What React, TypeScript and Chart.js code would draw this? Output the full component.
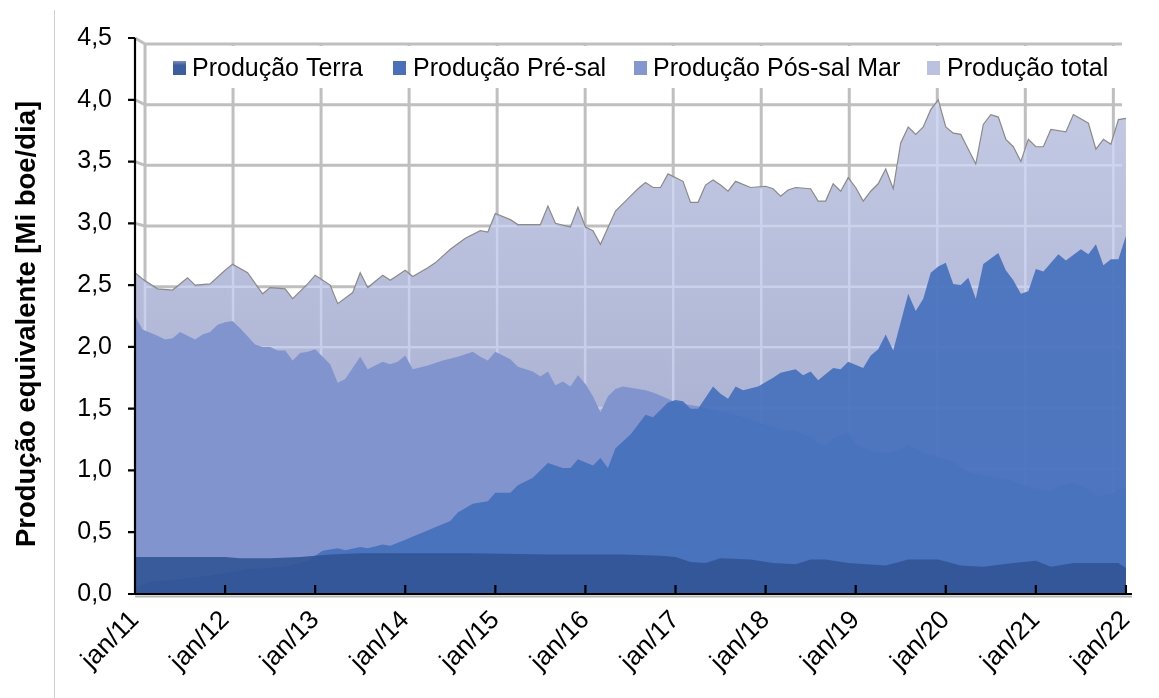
import React, { useEffect, useRef } from 'react';
import { Chart, registerables } from 'chart.js';

Chart.register(...registerables);

// ---------- data (month index: 0 = jan/11) ----------
const TICK_MONTHS = [0, 12, 24, 36, 48, 60, 72, 84, 96, 108, 120, 132];
const TICK_LABELS = ['jan/11', 'jan/12', 'jan/13', 'jan/14', 'jan/15', 'jan/16', 'jan/17', 'jan/18', 'jan/19', 'jan/20', 'jan/21', 'jan/22'];
const Y_TICKS = [0, 0.5, 1, 1.5, 2, 2.5, 3, 3.5, 4, 4.5];

const SERIES_NAMES = ['Produção Terra', 'Produção Pré-sal', 'Produção Pós-sal Mar', 'Produção total'];

const TOTAL_MONTHS = [0, 1, 3, 5, 7, 8, 10, 12, 13, 15, 17, 18, 20, 21, 23, 24, 26, 27, 29, 30, 31, 33, 34, 36, 37, 39, 40, 42, 44, 46, 47, 48, 50, 51, 54, 55, 56, 58, 59, 60, 61, 62, 64, 66, 67, 68, 69, 70, 71, 73, 74, 75, 76, 77, 78, 79, 80, 82, 84, 85, 86, 87, 88, 90, 91, 92, 93, 94, 95, 96, 97, 98, 99, 100, 101, 102, 103, 104, 105, 106, 107, 108, 109, 110, 111, 112, 113, 114, 115, 116, 117, 118, 119, 120, 121, 122, 124, 125, 127, 128, 129, 130, 131, 132];
const TOTAL_VALUES = [2.60, 2.55, 2.47, 2.46, 2.56, 2.50, 2.51, 2.62, 2.67, 2.60, 2.43, 2.48, 2.47, 2.39, 2.51, 2.58, 2.50, 2.35, 2.44, 2.60, 2.48, 2.58, 2.54, 2.62, 2.57, 2.64, 2.68, 2.79, 2.88, 2.94, 2.93, 3.08, 3.03, 2.99, 2.99, 3.14, 3.00, 2.97, 3.13, 2.97, 2.94, 2.83, 3.10, 3.22, 3.28, 3.33, 3.29, 3.29, 3.40, 3.34, 3.17, 3.17, 3.31, 3.35, 3.31, 3.26, 3.34, 3.29, 3.30, 3.28, 3.22, 3.27, 3.29, 3.28, 3.18, 3.18, 3.32, 3.26, 3.37, 3.29, 3.18, 3.26, 3.32, 3.44, 3.28, 3.65, 3.78, 3.72, 3.78, 3.92, 4.00, 3.78, 3.73, 3.72, 3.60, 3.48, 3.80, 3.88, 3.86, 3.68, 3.62, 3.50, 3.68, 3.62, 3.62, 3.76, 3.74, 3.88, 3.81, 3.60, 3.68, 3.64, 3.84, 3.85];

const POS_MONTHS = [0, 1, 3, 4, 5, 6, 7, 8, 9, 10, 11, 12, 13, 14, 16, 17, 18, 19, 20, 21, 22, 23, 24, 25, 26, 27, 28, 30, 31, 33, 34, 35, 36, 37, 39, 41, 43, 45, 46, 47, 48, 50, 51, 53, 54, 55, 56, 57, 58, 59, 60, 61, 62, 63, 64, 65, 66, 68, 69, 71, 72, 75, 78, 80, 82, 84, 86, 88, 90, 91, 92, 93, 95, 96, 98, 100, 102, 103, 105, 107, 109, 111, 113, 116, 118, 120, 122, 123, 125, 127, 128, 130, 131, 132];
const POS_VALUES = [2.25, 2.14, 2.09, 2.06, 2.07, 2.12, 2.09, 2.06, 2.10, 2.12, 2.18, 2.20, 2.21, 2.15, 2.02, 2.00, 2.00, 1.97, 1.97, 1.89, 1.95, 1.96, 1.98, 1.92, 1.86, 1.71, 1.74, 1.92, 1.82, 1.88, 1.86, 1.88, 1.93, 1.82, 1.85, 1.89, 1.92, 1.96, 1.92, 1.89, 1.96, 1.90, 1.84, 1.80, 1.76, 1.80, 1.69, 1.72, 1.68, 1.77, 1.70, 1.60, 1.47, 1.60, 1.66, 1.68, 1.67, 1.65, 1.63, 1.58, 1.55, 1.52, 1.48, 1.45, 1.41, 1.37, 1.33, 1.32, 1.27, 1.22, 1.20, 1.26, 1.31, 1.21, 1.16, 1.14, 1.17, 1.21, 1.14, 1.11, 1.07, 0.99, 0.96, 0.93, 0.89, 0.85, 0.83, 0.87, 0.90, 0.85, 0.79, 0.81, 0.85, 0.86];

const PRE_MONTHS = [0, 2, 6, 10, 15, 20, 23, 24, 25, 27, 28, 30, 31, 33, 34, 36, 38, 40, 42, 43, 45, 47, 48, 50, 51, 53, 55, 57, 58, 59, 61, 62, 63, 64, 66, 67, 68, 69, 71, 72, 73, 74, 75, 77, 78, 79, 80, 81, 83, 85, 86, 88, 89, 90, 91, 93, 94, 95, 97, 98, 99, 100, 101, 103, 104, 105, 106, 107, 108, 109, 110, 111, 112, 113, 115, 116, 117, 118, 119, 120, 121, 123, 124, 126, 127, 128, 129, 130, 131, 132];
const PRE_VALUES = [0.05, 0.10, 0.12, 0.15, 0.20, 0.22, 0.27, 0.31, 0.35, 0.37, 0.355, 0.38, 0.37, 0.40, 0.39, 0.44, 0.49, 0.54, 0.59, 0.66, 0.73, 0.75, 0.82, 0.82, 0.88, 0.94, 1.06, 1.02, 1.02, 1.09, 1.04, 1.10, 1.02, 1.18, 1.29, 1.37, 1.45, 1.43, 1.55, 1.57, 1.56, 1.50, 1.50, 1.68, 1.62, 1.58, 1.68, 1.65, 1.68, 1.75, 1.79, 1.82, 1.77, 1.80, 1.73, 1.83, 1.82, 1.88, 1.83, 1.93, 1.98, 2.10, 1.97, 2.43, 2.29, 2.39, 2.60, 2.65, 2.68, 2.51, 2.50, 2.56, 2.39, 2.67, 2.76, 2.62, 2.54, 2.43, 2.45, 2.63, 2.61, 2.75, 2.70, 2.79, 2.75, 2.83, 2.66, 2.71, 2.71, 2.90];

const TERRA_MONTHS = [0, 12, 14, 18, 22, 26, 30, 40, 45, 55, 65, 70, 72, 74, 76, 78, 82, 85, 88, 90, 92, 95, 100, 103, 107, 110, 113, 117, 120, 122, 125, 128, 131, 132];
const TERRA_VALUES = [0.30, 0.30, 0.29, 0.29, 0.30, 0.32, 0.33, 0.33, 0.33, 0.32, 0.32, 0.31, 0.30, 0.26, 0.25, 0.29, 0.28, 0.25, 0.24, 0.28, 0.28, 0.25, 0.23, 0.28, 0.28, 0.23, 0.22, 0.25, 0.27, 0.22, 0.25, 0.25, 0.25, 0.21];

const LEGEND_COLORS = ['#3d5e9e', '#4a70b9', '#8497cf', '#bac2df'];

const FONT = '"Liberation Sans", Arial, sans-serif';

function toPoints(months: number[], values: number[]) {
  return months.map((m, i) => ({ x: m, y: values[i] }));
}

function drawBackGrid(chart: any, color: string, width: number, diagonals: boolean) {
  const ctx = chart.ctx;
  const area = chart.chartArea;
  const xs = chart.scales.x;
  const ys = chart.scales.y;
  const L = area.left, R = area.right, B = area.bottom;
  const bx = (px: number) => L + 10 + (px - L) * 0.9772;
  const by = (py: number) => B - 4 - (B - py) * 0.982;
  ctx.save();
  ctx.strokeStyle = color;
  ctx.lineWidth = width;
  ctx.beginPath();
  Y_TICKS.forEach((v) => {
    const py = ys.getPixelForValue(v);
    ctx.moveTo(bx(L), by(py));
    ctx.lineTo(R - 4, by(py));
    if (diagonals) {
      ctx.moveTo(L, py);
      ctx.lineTo(bx(L), by(py));
    }
  });
  const top = by(ys.getPixelForValue(4.5));
  TICK_MONTHS.forEach((m) => {
    const px = bx(xs.getPixelForValue(m));
    ctx.moveTo(px, top);
    ctx.lineTo(px, by(B));
  });
  ctx.stroke();
  ctx.restore();
}

const decorPlugin = {
  id: 'decor',
  beforeDraw(chart: any) {
    const ctx = chart.ctx;
    ctx.save();
    ctx.fillStyle = '#ffffff';
    ctx.fillRect(0, 0, chart.width, chart.height);
    ctx.strokeStyle = '#cfcfcf';
    ctx.lineWidth = 1;
    ctx.beginPath();
    ctx.moveTo(54.5, 10);
    ctx.lineTo(54.5, chart.height);
    ctx.stroke();
    ctx.restore();
    drawBackGrid(chart, '#bfbfbf', 3, true);
  },
  afterDatasetDraw(chart: any, args: any) {
    if (args.index !== 3) return;
    const ctx = chart.ctx;
    const area = chart.chartArea;
    const pts = chart.getDatasetMeta(3).data;
    ctx.save();
    ctx.beginPath();
    ctx.moveTo(pts[0].x, area.bottom);
    pts.forEach((p: any) => ctx.lineTo(p.x, p.y + 2));
    ctx.lineTo(pts[pts.length - 1].x, area.bottom);
    ctx.closePath();
    ctx.clip();
    drawBackGrid(chart, 'rgba(225,232,255,0.45)', 2.5, false);
    ctx.restore();
  },
  afterDatasetsDraw(chart: any) {
    const ctx = chart.ctx;
    const area = chart.chartArea;
    const xs = chart.scales.x;
    const ys = chart.scales.y;
    ctx.save();
    // x axis shadow + axes
    ctx.strokeStyle = '#b5b5b5';
    ctx.lineWidth = 2;
    ctx.beginPath();
    ctx.moveTo(area.left, area.bottom + 2.5);
    ctx.lineTo(area.right + 6, area.bottom + 2.5);
    ctx.stroke();
    ctx.strokeStyle = '#000000';
    ctx.lineWidth = 2.2;
    ctx.beginPath();
    ctx.moveTo(area.left, area.top);
    ctx.lineTo(area.left, area.bottom);
    ctx.lineTo(area.right + 6, area.bottom);
    // y tick marks (outside)
    Y_TICKS.forEach((v) => {
      const py = ys.getPixelForValue(v);
      ctx.moveTo(area.left - 7, py);
      ctx.lineTo(area.left, py);
    });
    // x tick marks (inside)
    TICK_MONTHS.forEach((m) => {
      const px = xs.getPixelForValue(m);
      ctx.moveTo(px, area.bottom - 9);
      ctx.lineTo(px, area.bottom);
    });
    ctx.stroke();

    // legend box
    ctx.fillStyle = '#ffffff';
    ctx.fillRect(150, 46, 974, 42);
    const markerX = [173, 393, 634, 927];
    const textX = [192, 413, 653, 947];
    ctx.font = `25px ${FONT}`;
    ctx.textBaseline = 'middle';
    ctx.textAlign = 'left';
    SERIES_NAMES.forEach((name, i) => {
      const g = ctx.createLinearGradient(0, 61, 0, 75);
      g.addColorStop(0, i === 0 ? '#7a8fbf' : LEGEND_COLORS[i]);
      g.addColorStop(0.3, LEGEND_COLORS[i]);
      g.addColorStop(1, LEGEND_COLORS[i]);
      ctx.fillStyle = g;
      ctx.fillRect(markerX[i], 61, 13, 14);
      ctx.fillStyle = '#000000';
      ctx.fillText(name, textX[i], 69);
    });

    // y axis title
    ctx.translate(27, 324);
    ctx.rotate(-Math.PI / 2);
    ctx.font = `bold 27.5px ${FONT}`;
    ctx.textAlign = 'center';
    ctx.textBaseline = 'middle';
    ctx.fillStyle = '#000000';
    ctx.fillText('Produção equivalente [Mi boe/dia]', 0, 0);
    ctx.restore();
  },
};

export default function App() {
  const canvasRef = useRef<HTMLCanvasElement | null>(null);

  useEffect(() => {
    if (!canvasRef.current) return;
    const totalFill = (c: any) => {
      const chart = c.chart;
      const area = chart.chartArea;
      if (!area) return '#b5bcd8';
      const g = chart.ctx.createLinearGradient(0, area.top, 0, area.bottom);
      g.addColorStop(0, 'rgb(200,206,231)');
      g.addColorStop(1, 'rgb(160,167,202)');
      return g;
    };
    const chart = new Chart(canvasRef.current, {
      type: 'line',
      data: {
        datasets: [
          {
            label: SERIES_NAMES[0],
            data: toPoints(TERRA_MONTHS, TERRA_VALUES),
            backgroundColor: 'rgba(50,84,150,0.9)',
            borderWidth: 0,
            fill: 'origin',
          },
          {
            label: SERIES_NAMES[1],
            data: toPoints(PRE_MONTHS, PRE_VALUES),
            backgroundColor: 'rgba(68,111,188,0.9)',
            borderWidth: 0,
            fill: 'origin',
          },
          {
            label: SERIES_NAMES[2],
            data: toPoints(POS_MONTHS, POS_VALUES),
            backgroundColor: 'rgb(130,148,206)',
            borderWidth: 0,
            fill: 'origin',
          },
          {
            label: SERIES_NAMES[3],
            data: toPoints(TOTAL_MONTHS, TOTAL_VALUES),
            backgroundColor: totalFill,
            borderColor: '#8a8a8a',
            borderWidth: 1.2,
            fill: 'origin',
          },
        ],
      },
      options: {
        responsive: false,
        animation: false,
        events: [],
        layout: { padding: { left: 0, top: 37, right: 17, bottom: 0 } },
        elements: { point: { radius: 0 }, line: { tension: 0 } },
        plugins: { legend: { display: false }, tooltip: { enabled: false } },
        scales: {
          x: {
            type: 'linear',
            min: 0,
            max: 132,
            afterBuildTicks: (scale: any) => {
              scale.ticks = TICK_MONTHS.map((v) => ({ value: v }));
            },
            afterFit: (scale: any) => {
              scale.height = 104;
            },
            grid: { display: false, drawTicks: false },
            border: { display: false },
            ticks: {
              autoSkip: false,
              maxRotation: 45,
              minRotation: 45,
              padding: 11,
              color: '#000000',
              font: { family: FONT, size: 26 },
              callback: (v: any) => {
                const i = TICK_MONTHS.indexOf(Number(v));
                return i >= 0 ? TICK_LABELS[i] : '';
              },
            },
          },
          y: {
            min: 0,
            max: 4.5,
            afterBuildTicks: (scale: any) => {
              scale.ticks = Y_TICKS.map((v) => ({ value: v }));
            },
            afterFit: (scale: any) => {
              scale.width = 135;
            },
            grid: { display: false, drawTicks: false },
            border: { display: false },
            ticks: {
              padding: 23,
              color: '#000000',
              font: { family: FONT, size: 25 },
              callback: (v: any) => Number(v).toFixed(1).replace('.', ','),
            },
          },
        },
      },
      plugins: [decorPlugin],
    } as any);
    return () => chart.destroy();
  }, []);

  return (
    <div style={{ position: 'absolute', left: 0, top: 0, width: 1159, height: 698, background: '#ffffff' }}>
      <canvas ref={canvasRef} width={1159} height={698} />
    </div>
  );
}
